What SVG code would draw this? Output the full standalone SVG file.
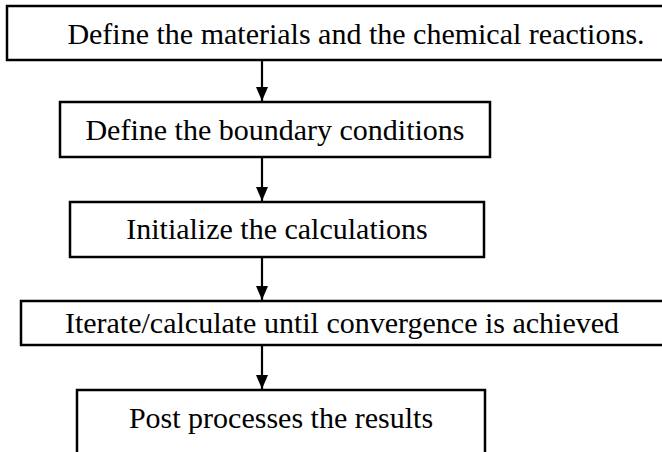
<svg xmlns="http://www.w3.org/2000/svg" width="662" height="452" viewBox="0 0 662 452">
  <style>
    .box { fill: #ffffff; stroke: #000000; stroke-width: 2.5; }
    .label { font-family: "Liberation Serif", "Times New Roman", serif; font-size: 30px; fill: #000000; text-anchor: middle; }
    .edge { stroke: #000000; stroke-width: 2.2; fill: none; }
  </style>
  <defs>
    <marker id="arrow" viewBox="0 0 12 14" refX="6" refY="14" markerWidth="12" markerHeight="14" markerUnits="userSpaceOnUse" orient="0">
      <path d="M0,0 L12,0 L6,14 Z" fill="#000000"/>
    </marker>
  </defs>
  <rect width="662" height="452" fill="#ffffff"/>

  <g id="step1">
    <rect class="box" x="7" y="6" width="660" height="54"/>
    <text class="label" x="356" y="44">Define the materials and the chemical reactions.</text>
  </g>
  <g id="step2">
    <rect class="box" x="60" y="102" width="430" height="55"/>
    <text class="label" x="275" y="140">Define the boundary conditions</text>
  </g>
  <g id="step3">
    <rect class="box" x="70" y="202" width="414" height="55"/>
    <text class="label" x="277" y="239">Initialize the calculations</text>
  </g>
  <g id="step4">
    <rect class="box" x="21" y="301" width="660" height="44"/>
    <text class="label" x="342" y="333">Iterate/calculate until convergence is achieved</text>
  </g>
  <g id="step5">
    <rect class="box" x="77" y="390" width="408" height="70"/>
    <text class="label" x="281" y="428">Post processes the results</text>
  </g>

  <g id="connectors">
    <path d="M262,60 V101" class="edge" marker-end="url(#arrow)"/>
    <path d="M262,157 V201" class="edge" marker-end="url(#arrow)"/>
    <path d="M262,257 V300" class="edge" marker-end="url(#arrow)"/>
    <path d="M262,345 V389" class="edge" marker-end="url(#arrow)"/>
  </g>
</svg>
